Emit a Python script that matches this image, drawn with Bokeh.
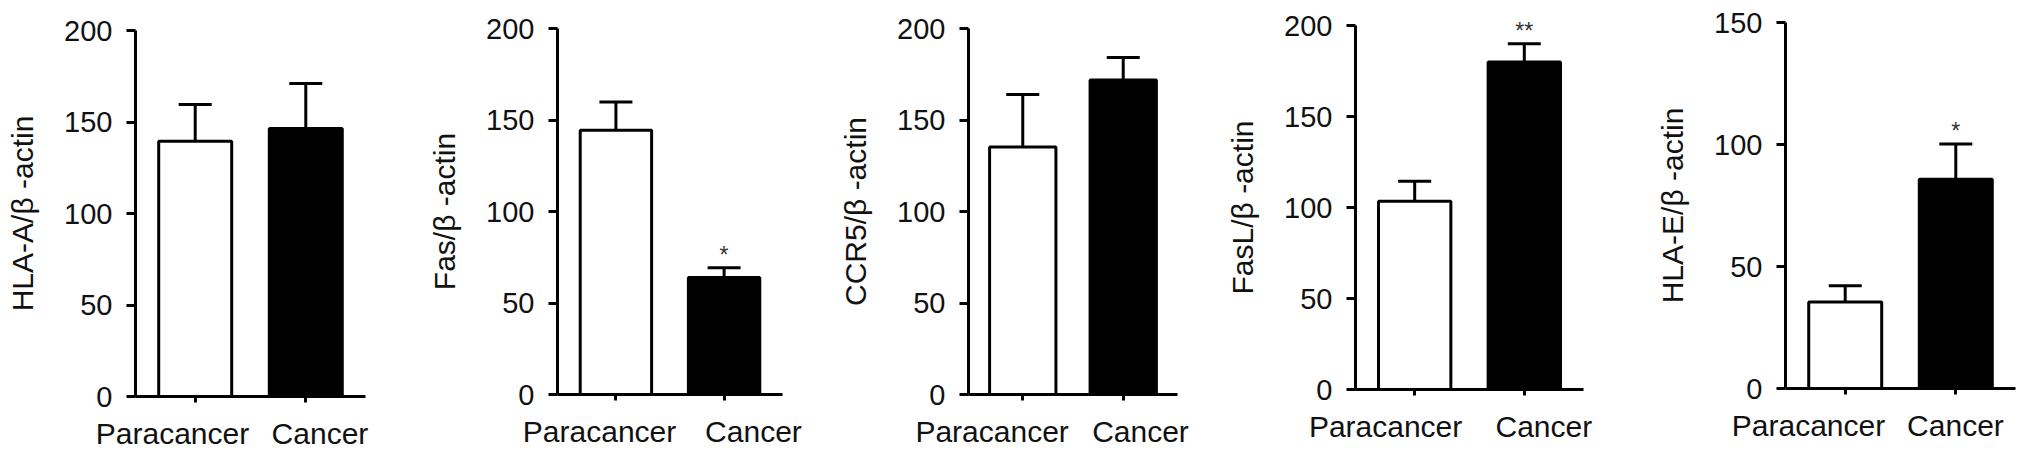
from bokeh.plotting import figure
from bokeh.models import (Range1d, FixedTicker, ColumnDataSource, Whisker, TeeHead,
                          LinearAxis)
from bokeh.layouts import row
from bokeh.embed import file_html
from bokeh.resources import INLINE
from bokeh.core.properties import value

categories = ["Paracancer", "Cancer"]

y_labels = ["HLA-A/β -actin", "Fas/β -actin", "CCR5/β -actin", "FasL/β -actin", "HLA-E/β -actin"]

hla_a_mean = [139.5, 146.5]
hla_a_sem = [20.1, 24.6]
fas_mean = [144.4, 63.9]
fas_sem = [15.5, 5.3]
ccr5_mean = [135.3, 171.8]
ccr5_sem = [28.6, 12.4]
fasl_mean = [103.4, 180.0]
fasl_sem = [11.0, 10.0]
hla_e_mean = [35.5, 85.8]
hla_e_sem = [6.6, 14.4]

significance = [["", ""], ["", "*"], ["", ""], ["", "**"], ["", "*"]]

y_max = [200, 200, 200, 200, 150]
y_ticks = [[0, 50, 100, 150, 200]] * 4 + [[0, 50, 100, 150]]

means = [hla_a_mean, fas_mean, ccr5_mean, fasl_mean, hla_e_mean]
sems = [hla_a_sem, fas_sem, ccr5_sem, fasl_sem, hla_e_sem]

bar_fill = ["white", "black"]

# category slots on the x scale: slot k is centred at k + 0.5
cat_x = [k + 0.5 for k in range(len(categories))]
X0, X1 = -0.04, 2.04

# layout (pixels) -- page origin at (0, 0)
widths = [408, 412, 400, 400, 411]
b_left = [135, 149, 148, 135, 165]
b_right = [43, 38, 43, 37, 16]
b_top = [30, 28, 28, 25, 22]
H = 453
b_bottom = [H - 396, H - 394, H - 394, H - 389, H - 388]
# where the category names sit along each panel's frame (fraction of frame width)
label_frac = [[0.161, 0.802], [0.187, 0.871], [0.113, 0.823], [0.132, 0.826], [0.100, 0.739]]

FONT = "Liberation Sans"
TXT = "#111111"

figs = []
for i in range(5):
    p = figure(width=widths[i], height=H, output_backend="svg", toolbar_location=None,
               x_range=Range1d(X0, X1), y_range=Range1d(0, y_max[i]),
               x_axis_type=None, frame_align=False,
               min_border_left=b_left[i], min_border_right=b_right[i],
               min_border_top=b_top[i], min_border_bottom=b_bottom[i])
    p.outline_line_color = None
    p.grid.visible = False
    p.background_fill_color = "white"
    p.border_fill_color = "white"

    upper = [m + s for m, s in zip(means[i], sems[i])]
    src = ColumnDataSource(dict(x=cat_x, top=means[i], upper=upper, fill=bar_fill))
    p.vbar(x="x", top="top", bottom=0, width=0.66, source=src,
           fill_color="fill", line_color="black", line_width=3)
    w = Whisker(source=src, base="x", upper="upper", lower="top", dimension="height",
                line_width=3, line_color="black",
                upper_head=TeeHead(size=33, line_width=3, line_color="black"),
                lower_head=None)
    p.add_layout(w)

    keep = [k for k in range(2) if significance[i][k]]
    if keep:
        star_src = ColumnDataSource(dict(x=[cat_x[k] for k in keep],
                                         y=[upper[k] for k in keep],
                                         sig=[significance[i][k] for k in keep]))
        p.text(x="x", y="y", text="sig", source=star_src, text_align="center",
               text_baseline="bottom", text_font=value(FONT), text_font_size="23px",
               text_color="#333333", level="annotation")

    ya = p.yaxis[0]
    ya.ticker = FixedTicker(ticks=y_ticks[i])
    ya.axis_label = y_labels[i]
    ya.axis_label_text_font = FONT
    ya.axis_label_text_font_size = "30px"
    ya.axis_label_text_font_style = "normal"
    ya.axis_label_text_color = TXT
    ya.axis_label_standoff = 22
    ya.major_label_text_font = FONT
    ya.major_label_text_font_size = "29px"
    ya.major_label_text_color = TXT
    ya.major_label_standoff = 14
    ya.axis_line_width = 3
    ya.major_tick_line_width = 3
    ya.major_tick_out = 9
    ya.major_tick_in = 0
    ya.minor_tick_out = 0
    ya.minor_tick_in = 0

    # x axis: small marks (minor ticks) at the category centres,
    # category names (major labels) where the reference prints them
    lx = [X0 + f * (X1 - X0) for f in label_frac[i]]
    xa = LinearAxis(ticker=FixedTicker(ticks=lx, minor_ticks=cat_x),
                    major_label_overrides={lx[k]: categories[k] for k in range(2)})
    xa.axis_line_width = 3
    xa.major_tick_line_color = None
    xa.major_tick_out = 0
    xa.major_tick_in = 0
    xa.minor_tick_line_width = 3
    xa.minor_tick_out = 6
    xa.minor_tick_in = 0
    xa.major_label_standoff = 14
    xa.major_label_text_font = FONT
    xa.major_label_text_font_size = "30px"
    xa.major_label_text_color = TXT
    p.add_layout(xa, "below")

    figs.append(p)

layout = row(*figs, spacing=0)
open("out.html", "w").write(file_html(layout, INLINE))
